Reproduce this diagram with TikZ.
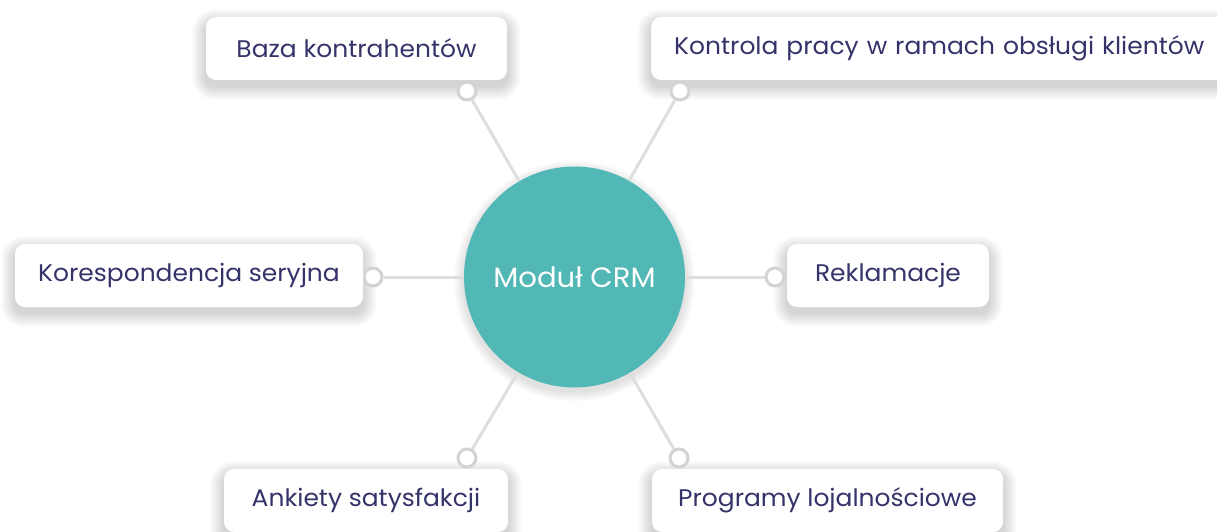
\documentclass[tikz,border=0pt]{standalone}
\usepackage{fontspec}
\setmainfont{Poppins}[FakeStretch=1.04]
\definecolor{navy}{HTML}{34336A}
\definecolor{teal}{HTML}{52B8B6}
\definecolor{lgray}{HTML}{DEDEDE}
\definecolor{rgray}{HTML}{D3D3D3}
\pgfdeclarelayer{bglayer}
\pgfdeclarelayer{shadowlayer}
\pgfsetlayers{bglayer,shadowlayer,main}
\begin{document}
\begin{tikzpicture}[x=1pt,y=-1pt,
  box/.style={rectangle, rounded corners=10pt, fill=white, inner sep=0pt,
    minimum height=63pt, text=navy, font=\fontsize{24}{28}\selectfont},
  ring/.style={circle, draw=rgray, line width=3pt, fill=white, inner sep=0pt, minimum size=18pt},
  link/.style={draw=lgray, line width=3pt},
  hub/.style={circle, fill=teal, minimum size=221pt, inner sep=0pt, text=white,
    font=\fontsize{28}{32}\selectfont},
  shade/.style={fill=black, opacity=0.011}]
\useasboundingbox (0,0) rectangle (1217,532);
\clip (0,0) rectangle (1217,532);
\begin{pgfonlayer}{bglayer}
\fill[white] (0,0) rectangle (1217,532);
\end{pgfonlayer}

% hub
\node[hub] (crm) at (574.5,277) {Moduł CRM};

% rings
\node[ring] (r1) at (467,91) {};
\node[ring] (r2) at (680,91) {};
\node[ring] (r3) at (373,277) {};
\node[ring] (r4) at (775,277) {};
\node[ring] (r5) at (467,458) {};
\node[ring] (r6) at (679,458) {};

\foreach \r in {r1,r2,r3,r4,r5,r6}{\draw[link] (crm) -- (\r);}

% boxes
\node[box, minimum width=301pt] (b1) at (356.5,48.5) {Baza kontrahentów};
\node[box, anchor=west, inner xsep=23pt, text width=534pt, align=left] (b2) at (651,48.5) {Kontrola pracy w ramach obsługi klientów};
\node[box, minimum width=348pt] (b3) at (189,275.5) {Korespondencja seryjna};
\node[box, minimum width=202pt] (b4) at (888,275.5) {Reklamacje};
\node[box, minimum width=284pt] (b5) at (366,500.5) {Ankiety satysfakcji};
\node[box, minimum width=351pt] (b6) at (827.5,500.5) {Programy lojalnościowe};

% soft shadows
\begin{pgfonlayer}{shadowlayer}
\foreach \b in {b1,b2,b3,b4,b5,b6}{
  \foreach \i in {1,...,14}{
    \fill[shade, rounded corners={10pt+\i pt}]
      ([shift={(-\i,-\i+6)}]\b.north west) rectangle ([shift={(\i,\i+6)}]\b.south east);
  }
}
\foreach \i in {1,...,10}{
  \fill[shade] ([yshift=-4pt]crm.center) circle ({110.5+\i});
}
\end{pgfonlayer}
\end{tikzpicture}
\end{document}
